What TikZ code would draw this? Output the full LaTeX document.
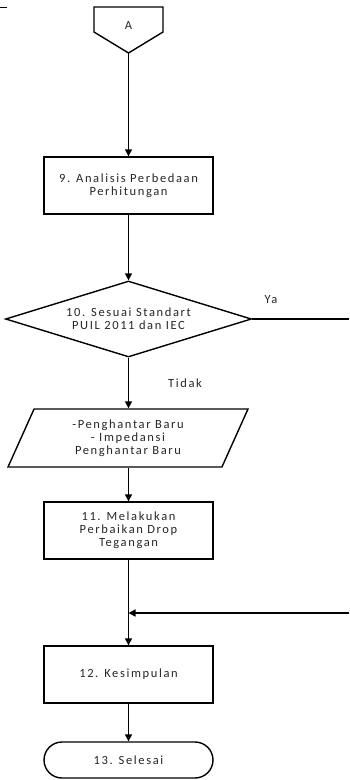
\documentclass[tikz,border=0pt]{standalone}
\usepackage{fontspec}
\setmainfont{Carlito}[LetterSpace=13]
\usetikzlibrary{shapes.geometric,shapes.misc,arrows.meta}
\begin{document}
\begin{tikzpicture}[x=1pt,y=-1pt,
  line width=1.4pt,
  every node/.style={font=\fontsize{12.5}{13.2}\selectfont, align=center, text=black!85},
  procbox/.style={draw, rectangle, minimum width=169pt, minimum height=57pt, inner sep=0pt},
  decision/.style={draw, diamond, aspect=3.24, minimum width=246pt, minimum height=76pt, inner sep=0pt},
  iobox/.style={draw, trapezium, trapezium left angle=55, trapezium right angle=125, trapezium stretches body=true, minimum width=240pt, minimum height=58pt, inner sep=0pt},
  terminal/.style={draw, rounded rectangle, minimum width=169pt, minimum height=36pt, inner sep=0pt},
  arr/.style={-{Triangle[length=7pt,width=7pt]}},
  lbl/.style={font=\fontsize{12.5}{13.2}\selectfont}
]
\useasboundingbox (0,0) rectangle (349,780);
% small mark top-left
\coordinate (m1) at (0,7);
\coordinate (m2) at (7,7);
\draw[line width=0.8pt] (m1) -- (m2);
% off-page connector A
\coordinate (pA1) at (94,7);
\coordinate (pA2) at (163,7);
\coordinate (pA3) at (163,32);
\coordinate (tipA) at (128.5,53);
\coordinate (pA5) at (94,32);
\draw (pA1) -- (pA2) -- (pA3) -- (tipA) -- (pA5) -- cycle;
\node (A) at (128.5,25) {A};
% process nodes
\node[procbox] (s9) at (128.5,185.5) {9. Analisis Perbedaan\\Perhitungan};
\node[decision] (s10) at (128.5,319) {10. Sesuai Standart\\PUIL 2011 dan IEC};
\node[iobox] (io) at (128,438) {-Penghantar Baru\\- Impedansi\\Penghantar Baru};
\node[procbox] (s11) at (128.5,530.5) {11. Melakukan\\Perbaikan Drop\\Tegangan};
\node[procbox] (s12) at (128.5,674.5) {12. Kesimpulan};
\node[terminal] (s13) at (128.5,760) {13. Selesai};
% connectors
\draw[arr] (tipA) -- (s9.north);
\draw[arr] (s9.south) -- (s10.north);
\draw[arr] (s10.south) -- (io.north -| s10.south);
\draw[arr] (io.south -| s10.south) -- (s11.north);
\draw[arr] (s11.south) -- (s12.north);
\draw[arr] (s12.south) -- (s13.north);
% Ya branch
\coordinate (yaEnd) at (349,319);
\draw (s10.east) -- (yaEnd);
\coordinate (ret) at (349,613);
\coordinate (merge) at (128.5,613);
\draw[arr] (ret) -- (merge);
% labels
\node[lbl] (ya) at (271,300) {Ya};
\node[lbl] (tidak) at (185,383) {Tidak};
\end{tikzpicture}
\end{document}
